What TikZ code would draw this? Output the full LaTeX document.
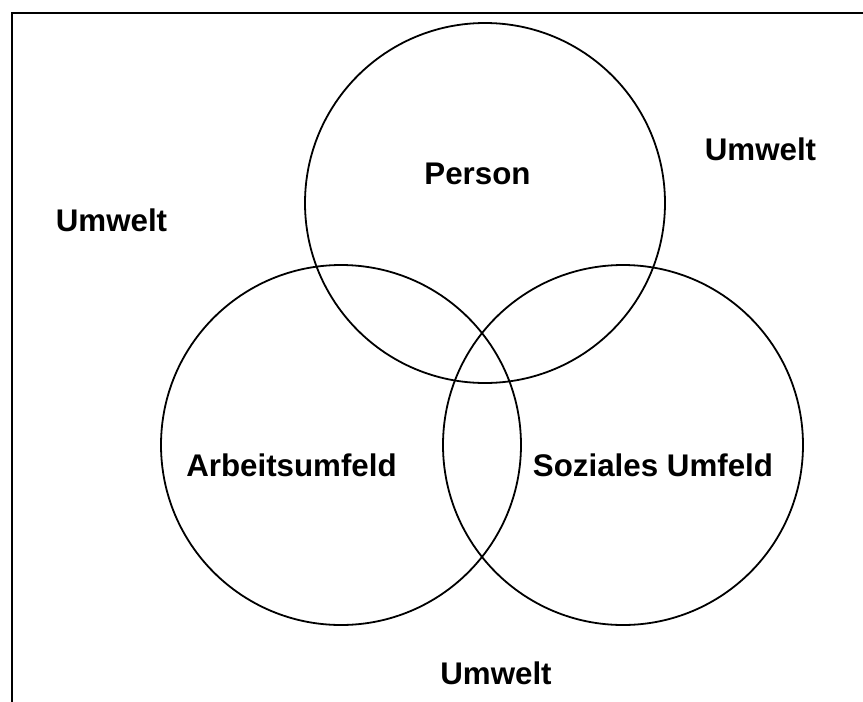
\documentclass[tikz,border=0pt]{standalone}
\usepackage{fontspec}
\setmainfont{Liberation Sans}
\begin{document}
\begin{tikzpicture}[x=1pt,y=-1pt,
  lbl/.style={font=\fontsize{31.3}{36}\selectfont\bfseries, anchor=base, inner sep=0pt},
  ring/.style={draw=black, line width=1.8pt, circle, minimum size=360pt, inner sep=0pt}]
\useasboundingbox (0,0) rectangle (863,702);
\draw[line width=2pt] (11.5,702) -- (11.5,12.5) -- (863,12.5);
\node[ring] (p) at (485,203) {};
\node[ring] (a) at (341,445) {};
\node[ring] (s) at (623,445) {};
\node[lbl] (tp) at (477.5,184) {Person};
\node[lbl] (u1) at (760.5,160) {Umwelt};
\node[lbl] (u2) at (111.5,231) {Umwelt};
\node[lbl] (ta) at (291.5,476) {Arbeitsumfeld};
\node[lbl] (ts) at (653,476) {Soziales Umfeld};
\node[lbl] (u3) at (496,684) {Umwelt};
\end{tikzpicture}
\end{document}
